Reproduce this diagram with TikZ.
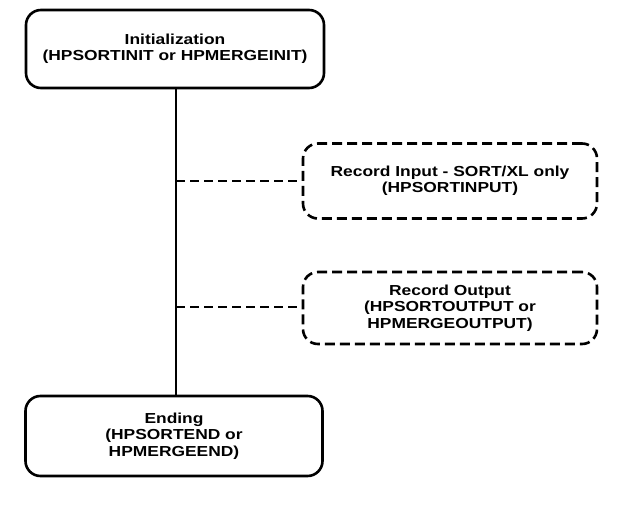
\documentclass[tikz,border=0pt]{standalone}
\usepackage{fontspec}
\setmainfont{Liberation Sans}
\newfontfamily\boxfont[FakeStretch=1.2]{Liberation Sans}
\begin{document}
\begin{tikzpicture}[x=1pt,y=-1pt,
  box/.style={draw, line width=2.6pt, rounded corners=15pt, align=center, font=\boxfont\bfseries\fontsize{14.5}{16.5}\selectfont, inner sep=0pt},
  dbox/.style={box, dash pattern=on 10pt off 5pt},
  link/.style={line width=1.8pt},
  dlink/.style={line width=1.8pt, dash pattern=on 9pt off 5pt}]
\useasboundingbox (0,0) rectangle (625,516);
\node[box, minimum width=298pt, minimum height=78pt] (init) at (175,49) {Initialization\\(HPSORTINIT or HPMERGEINIT)};
\node[dbox, minimum width=294pt, minimum height=75pt] (rin) at (450,181) {Record Input - SORT/XL only\\(HPSORTINPUT)};
\node[dbox, minimum width=294pt, minimum height=72pt] (rout) at (450,308) {Record Output\\(HPSORTOUTPUT or\\HPMERGEOUTPUT)};
\node[box, minimum width=297pt, minimum height=80pt] (end) at (174,436) {Ending\\(HPSORTEND or\\HPMERGEEND)};
\draw[link] (init.south -| 176,0) -- (end.north -| 176,0);
\coordinate (j1) at (176,181);
\coordinate (j2) at (176,307);
\draw[dlink] (j1) -- (rin.west);
\draw[dlink] (j2) -- (rin.west |- j2);
\end{tikzpicture}
\end{document}
